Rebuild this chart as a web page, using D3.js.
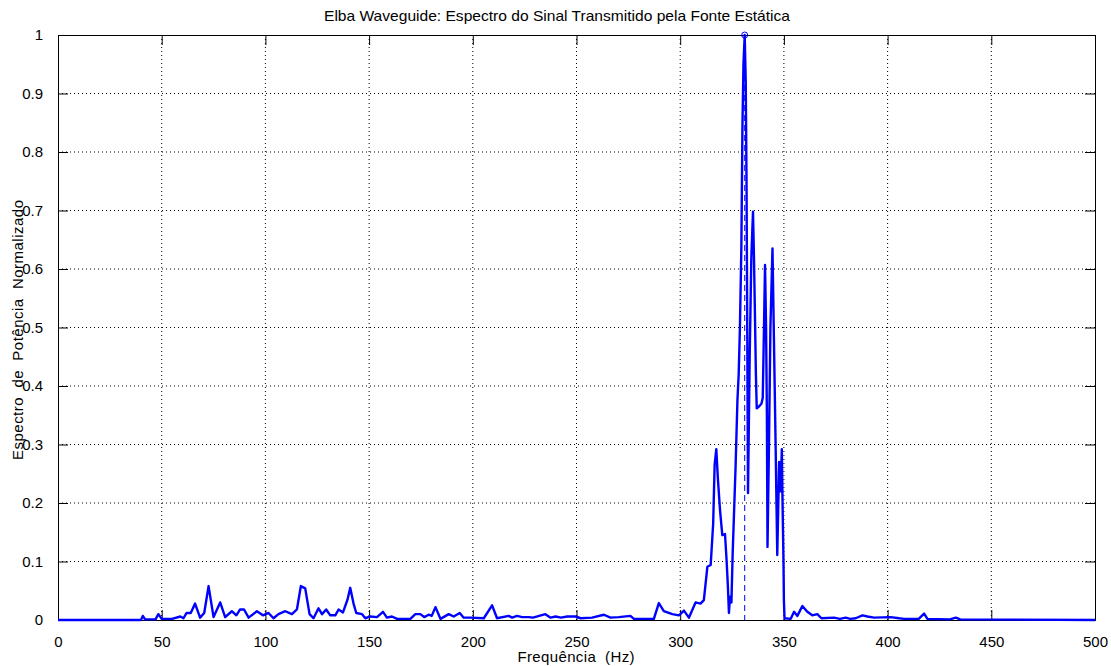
<!DOCTYPE html>
<html lang="pt">
  <head>
    <meta charset="UTF-8" />
    <title>Elba Waveguide: Espectro</title>
    <script src="https://d3js.org/d3.v7.min.js"></script>
    <style>
      body { margin: 0; background: #ffffff; }
      text { font-family: "Liberation Sans", Arial, sans-serif; fill: #000; }
    </style>
  </head>
  <body>
    <div id="viz"></div>
    <script>
      // spectrum (Hz, normalised power)
      const freq = [
        0, 40, 40.9, 42, 47, 48.4, 50, 55, 59, 60.5, 62, 64, 66.1, 68.5, 70.5, 72.6, 75, 78.2, 80.6, 83.8,
        86, 87.8, 89.7, 91.9, 95.9, 98.8, 101.5, 103.9, 106.3, 109.6, 112.8, 115.2, 117.1, 119.2, 121.3,
        123.2, 125.6, 127.3, 129.3, 131.3, 133.7, 135.3, 137.4, 139.6, 140.9, 142.5, 143.8, 146.6, 148.2,
        150.6, 153.8, 156.7, 158.6, 161, 163.5, 169.9, 172.3, 174.7, 176.6, 178.7, 180.2, 182, 184.4,
        188.4, 190.8, 193.7, 195.6, 198.8, 205.3, 209.3, 211.7, 217.3, 219, 221.3, 223.8, 227, 229, 235,
        237.5, 239.9, 242.5, 245.5, 249.5, 252, 257.5, 263.2, 266.4, 270.4, 276, 277.7, 287.3, 289.7,
        292.1, 296.2, 299.4, 301.8, 304.2, 307.4, 309.8, 311.4, 313.1, 314.7, 315.9, 316.6, 317.4, 318.2,
        319.2, 320.3, 321.6, 322.4, 323, 323.5, 324, 324.7, 325.3, 325.9, 326.7, 327.6, 328.2, 328.8,
        329.5, 330, 330.5, 331.1, 331.6, 332, 332.7, 333.5, 334.3, 335.1, 335.6, 336, 336.5, 336.9, 338,
        339.2, 339.8, 340.4, 340.9, 341.4, 341.8, 342.1, 342.8, 343.5, 344.5, 345.2, 346, 346.8, 347.7,
        348.4, 349, 349.4, 349.8, 350, 350.3, 353.3, 354.9, 356.5, 358.9, 361.3, 363.7, 366.1, 368.1,
        374.2, 377, 379.8, 382, 384.6, 387.9, 390.3, 393.5, 401.5, 405.5, 408, 415, 417.6, 419.2, 430,
        432.9, 435, 500
      ];
      const power = [
        0, 0, 0.007, 0.001, 0.001, 0.01, 0.002, 0.002, 0.006, 0.003, 0.012, 0.012, 0.028, 0.004, 0.012,
        0.058, 0.005, 0.03, 0.005, 0.015, 0.008, 0.018, 0.018, 0.004, 0.015, 0.008, 0.012, 0.003, 0.01,
        0.015, 0.01, 0.018, 0.058, 0.054, 0.01, 0.003, 0.02, 0.01, 0.018, 0.008, 0.008, 0.018, 0.013,
        0.035, 0.055, 0.028, 0.012, 0.01, 0.003, 0.006, 0.005, 0.014, 0.004, 0.006, 0.002, 0.002, 0.01,
        0.01, 0.005, 0.009, 0.007, 0.022, 0.002, 0.01, 0.006, 0.012, 0.004, 0.004, 0.003, 0.025, 0.003,
        0.007, 0.004, 0.007, 0.005, 0.005, 0.004, 0.01, 0.004, 0.006, 0.004, 0.006, 0.006, 0.003, 0.004,
        0.009, 0.004, 0.005, 0.007, 0.002, 0.002, 0.029, 0.015, 0.01, 0.008, 0.016, 0.004, 0.03, 0.028,
        0.034, 0.091, 0.094, 0.165, 0.265, 0.292, 0.24, 0.188, 0.145, 0.147, 0.1, 0.057, 0.012, 0.04,
        0.03, 0.114, 0.177, 0.262, 0.376, 0.42, 0.5, 0.64, 0.84, 0.95, 1.0, 0.92, 0.74, 0.217, 0.45,
        0.62, 0.698, 0.615, 0.53, 0.42, 0.362, 0.365, 0.37, 0.38, 0.5, 0.607, 0.5, 0.35, 0.125, 0.3, 0.5,
        0.635, 0.479, 0.3, 0.111, 0.27, 0.22, 0.292, 0.188, 0.1, 0.034, 0.003, 0.002, 0.014, 0.007,
        0.024, 0.014, 0.008, 0.01, 0.003, 0.004, 0.002, 0.004, 0.002, 0.003, 0.008, 0.006, 0.004, 0.005,
        0.003, 0.002, 0.002, 0.011, 0.002, 0.001, 0.004, 0.001, 0
      ];
      const xTicks = [0, 50, 100, 150, 200, 250, 300, 350, 400, 450, 500];
      const yTicks = [0, 0.1, 0.2, 0.3, 0.4, 0.5, 0.6, 0.7, 0.8, 0.9, 1];
      const peakFreq = 331.1;

      const W = 1111, H = 666;
      const margin = { top: 35, right: 16, bottom: 46, left: 58 };
      const width = W - margin.left - margin.right,
        height = H - margin.top - margin.bottom;

      const svg = d3.select("#viz").append("svg")
        .attr("width", W).attr("height", H);
      const g = svg.append("g")
        .attr("transform", "translate(" + margin.left + "," + margin.top + ")");

      const x = d3.scaleLinear().domain([0, 500]).range([0, width]);
      const y = d3.scaleLinear().domain([0, 1]).range([height, 0]);

      // dotted grid
      g.append("g").selectAll("line").data(xTicks.slice(1, -1)).join("line")
        .attr("x1", d => x(d)).attr("x2", d => x(d))
        .attr("y1", 0).attr("y2", height)
        .attr("stroke", "#000").attr("stroke-width", 1)
        .attr("stroke-dasharray", "1,3");
      g.append("g").selectAll("line").data(yTicks.slice(1, -1)).join("line")
        .attr("y1", d => y(d)).attr("y2", d => y(d))
        .attr("x1", 0).attr("x2", width)
        .attr("stroke", "#000").attr("stroke-width", 1)
        .attr("stroke-dasharray", "1,3");

      // axes with inward ticks, on all four sides
      const tl = 10;
      const xAxis = g.append("g").attr("transform", "translate(0," + height + ")")
        .call(d3.axisBottom(x).tickValues(xTicks).tickSize(-tl).tickPadding(tl + 6).tickFormat(d3.format("d")));
      const xTop = g.append("g")
        .call(d3.axisTop(x).tickValues(xTicks).tickSize(-tl).tickFormat(""));
      const yAxis = g.append("g")
        .call(d3.axisLeft(y).tickValues(yTicks).tickSize(-tl).tickPadding(tl + 5).tickFormat(d => d === 0 || d === 1 ? d3.format("d")(d) : d3.format(".1f")(d)));
      const yRight = g.append("g").attr("transform", "translate(" + width + ",0)")
        .call(d3.axisRight(y).tickValues(yTicks).tickSize(-tl).tickFormat(""));
      [xAxis, xTop, yAxis, yRight].forEach(a => {
        a.select(".domain").attr("stroke", "#000");
        a.selectAll(".tick line").attr("stroke", "#000");
        a.selectAll("text").style("font-family", "'Liberation Sans', Arial, sans-serif")
          .style("font-size", "15px").attr("fill", "#000");
      });

      // spectrum line
      const pts = freq.map((f, i) => [f, power[i]]);
      g.append("path").datum(pts)
        .attr("fill", "none").attr("stroke", "#0000ff").attr("stroke-width", 2.4)
        .attr("stroke-linejoin", "round")
        .attr("d", d3.line().x(d => x(d[0])).y(d => y(d[1])));

      // dashed marker at the peak
      g.append("line")
        .attr("x1", x(peakFreq)).attr("x2", x(peakFreq))
        .attr("y1", y(1)).attr("y2", y(0))
        .attr("stroke", "#0000ff").attr("stroke-width", 1)
        .attr("stroke-dasharray", "6,4");
      g.append("circle")
        .attr("cx", x(peakFreq)).attr("cy", y(1)).attr("r", 3)
        .attr("fill", "none").attr("stroke", "#0000ff").attr("stroke-width", 1);

      // titles
      svg.append("text").attr("x", 557).attr("y", 21)
        .attr("text-anchor", "middle").style("font-size", "15px")
        .attr("textLength", 466).attr("lengthAdjust", "spacingAndGlyphs")
        .text("Elba Waveguide: Espectro do Sinal Transmitido pela Fonte Estática");
      svg.append("text").attr("x", 576).attr("y", 662)
        .attr("text-anchor", "middle").style("font-size", "15px")
        .style("white-space", "pre")
        .attr("textLength", 117).attr("lengthAdjust", "spacing")
        .text("Frequência  (Hz)");
      svg.append("text")
        .attr("transform", "translate(23,330) rotate(-90)")
        .attr("text-anchor", "middle").style("font-size", "15px")
        .style("white-space", "pre")
        .attr("textLength", 260).attr("lengthAdjust", "spacing")
        .text("Espectro  de  Potência  Normalizado");
    </script>
  </body>
</html>
